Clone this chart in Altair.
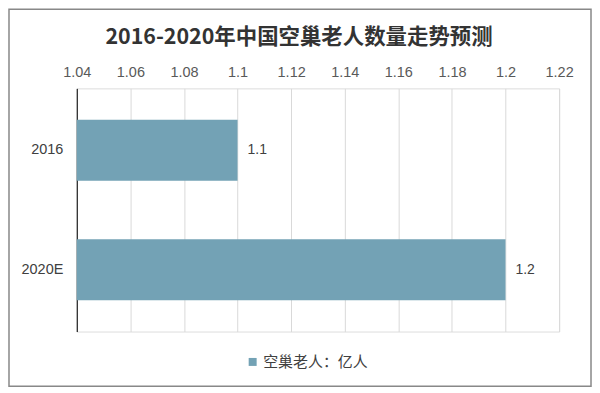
import altair as alt
import pandas as pd

categories = ["2016", "2020E"]
values = [1.1, 1.2]
series_name = "空巢老人：亿人"
tick_values = [1.04, 1.06, 1.08, 1.1, 1.12, 1.14, 1.16, 1.18, 1.2, 1.22]

df = pd.DataFrame({"year": categories, "value": values, "series": [series_name] * len(categories)})

FONT = "Liberation Sans"
CJK = "Noto Sans CJK SC"
BAR = "#73a2b5"

y_enc = alt.Y("year:N", sort=categories, title=None,
              scale=alt.Scale(paddingInner=0.49, paddingOuter=0.262),
              axis=alt.Axis(ticks=False, domainColor="#000000", domainWidth=1,
                            labelFontSize=14.5, labelColor="#404040", labelFont=FONT,
                            labelPadding=14))
x_enc = alt.X("value:Q", title=None,
              scale=alt.Scale(domain=[1.04, 1.22], nice=False, zero=False),
              axis=alt.Axis(orient="top", values=tick_values, format="~g", domain=False, ticks=False,
                            grid=True, gridColor="#d9d9d9", gridWidth=1,
                            labelFontSize=14.5, labelColor="#595959", labelFont=FONT,
                            labelPadding=9, labelFlush=False))

bars = alt.Chart(df).mark_bar(clip=True).encode(
    y=y_enc,
    x=x_enc,
    color=alt.Color("series:N", title=None,
                    scale=alt.Scale(range=[BAR]),
                    legend=alt.Legend(orient="none", legendX=169, legendY=267, direction="horizontal",
                                      symbolType="square", symbolSize=64, padding=0,
                                      labelFontSize=15, labelColor="#404040", labelFont=CJK,
                                      labelOffset=3, symbolStrokeWidth=0)),
)

labels = alt.Chart(df).mark_text(align="left", baseline="middle", dx=10, fontSize=14,
                                  color="#404040", font=FONT).encode(
    y=alt.Y("year:N", sort=categories),
    x=alt.X("value:Q"),
    text=alt.Text("value:Q", format="~g"),
)

border = alt.Chart(pd.DataFrame({"a": [0]})).mark_rect(
    filled=False, stroke="#888888", strokeWidth=1.5, clip=False
).encode(
    x=alt.value(-68), x2=alt.value(516), y=alt.value(-79.5), y2=alt.value(299)
)

chart = alt.layer(border, bars, labels).properties(
    width=484, height=244,
    padding={"left": 69, "top": 80, "right": 33, "bottom": 56},
    autosize=alt.AutoSizeParams(type="none"),
    title=alt.Title("2016-2020年中国空巢老人数量走势预测", fontSize=21.5, fontWeight="bold",
                    font=CJK, color="#333333", anchor="middle", offset=-40, dx=-19),
).configure_view(stroke=None).configure(background="white")

chart.save("out.html", embed_options={"renderer": "svg", "actions": False})
